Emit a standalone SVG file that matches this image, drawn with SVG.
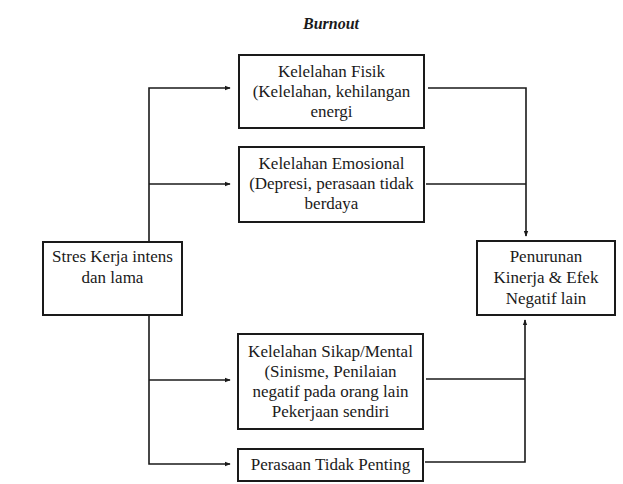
<svg xmlns="http://www.w3.org/2000/svg" width="623" height="484" viewBox="0 0 623 484">
<defs>
<style>
.box{fill:#fff;stroke:#1a1a1a;stroke-width:2}
.t{font-family:"Liberation Serif","Times New Roman",serif;font-size:17px;fill:#1a1a1a;text-anchor:middle}
.title{font-family:"Liberation Serif","Times New Roman",serif;font-size:16px;font-weight:bold;font-style:italic;fill:#1a1a1a;text-anchor:middle}
.c{fill:none;stroke:#1a1a1a;stroke-width:1.6}
</style>
<marker id="ah" viewBox="0 0 8 8" refX="7" refY="4" markerWidth="6" markerHeight="6" markerUnits="userSpaceOnUse" orient="auto">
<path d="M0,1 L8,4 L0,7 Z" fill="#1a1a1a"/>
</marker>
</defs>
<rect width="623" height="484" fill="#fff"/>
<text class="title" x="331" y="29">Burnout</text>
<g id="connectors">
<path class="c" d="M149,242 V88 H230" marker-end="url(#ah)"/>
<path class="c" d="M149,184 H230" marker-end="url(#ah)"/>
<path class="c" d="M149,315 V464 H230" marker-end="url(#ah)"/>
<path class="c" d="M149,380 H230" marker-end="url(#ah)"/>
<path class="c" d="M428,88 H526 V236" marker-end="url(#ah)"/>
<path class="c" d="M426,184 H526"/>
<path class="c" d="M425,462 H525 V320" marker-end="url(#ah)"/>
<path class="c" d="M426,379 H525"/>
</g>
<g id="fisik">
<rect class="box" x="239" y="55" width="185" height="73"/>
<text class="t" x="331.5" y="77">Kelelahan Fisik</text>
<text class="t" x="331.5" y="97">(Kelelahan, kehilangan</text>
<text class="t" x="331.5" y="117">energi</text>
</g>
<g id="emosional">
<rect class="box" x="239" y="147" width="185" height="75"/>
<text class="t" x="331.5" y="169">Kelelahan Emosional</text>
<text class="t" x="331.5" y="189">(Depresi, perasaan tidak</text>
<text class="t" x="331.5" y="209">berdaya</text>
</g>
<g id="stres">
<rect class="box" x="43" y="242" width="139" height="73"/>
<text class="t" x="112.5" y="262">Stres Kerja intens</text>
<text class="t" x="112.5" y="283">dan lama</text>
</g>
<g id="penurunan">
<rect class="box" x="477" y="241" width="138" height="74"/>
<text class="t" x="546" y="262">Penurunan</text>
<text class="t" x="546" y="283">Kinerja &amp; Efek</text>
<text class="t" x="546" y="304">Negatif lain</text>
</g>
<g id="sikap">
<rect class="box" x="238" y="334" width="185" height="95"/>
<text class="t" x="330.5" y="357">Kelelahan Sikap/Mental</text>
<text class="t" x="330.5" y="377">(Sinisme, Penilaian</text>
<text class="t" x="330.5" y="397">negatif pada orang lain</text>
<text class="t" x="330.5" y="417">Pekerjaan sendiri</text>
</g>
<g id="perasaan">
<rect class="box" x="238" y="449" width="185" height="32"/>
<text class="t" x="330.5" y="470">Perasaan Tidak Penting</text>
</g>
</svg>
